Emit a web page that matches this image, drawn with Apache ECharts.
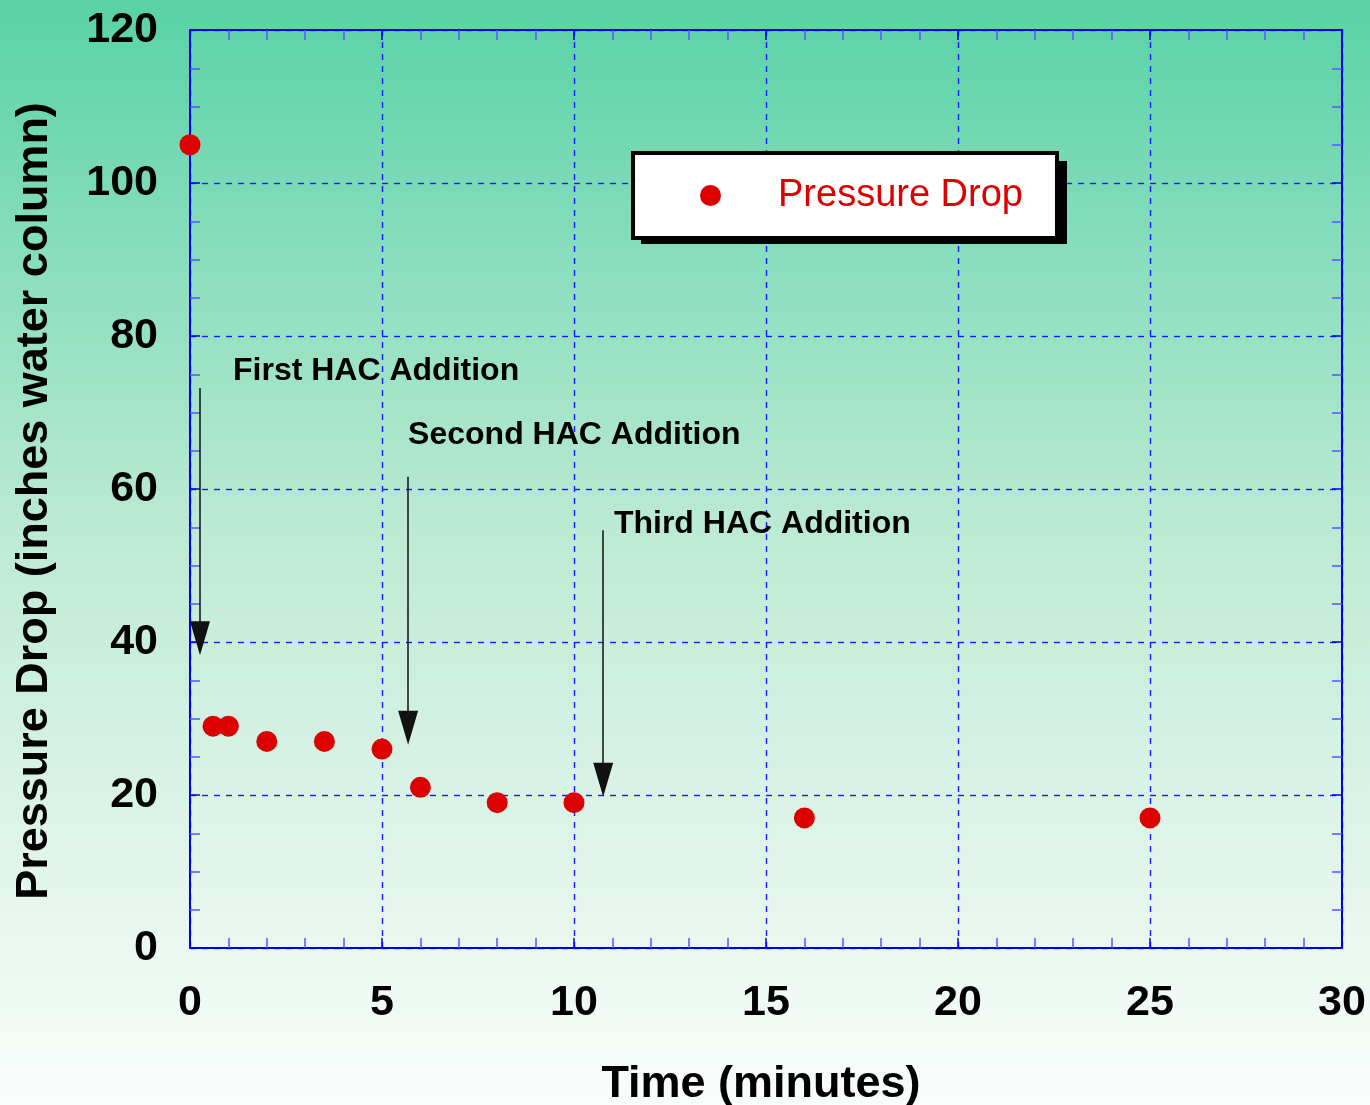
<!DOCTYPE html>
<html>
<head>
<meta charset="utf-8">
<script src="https://cdn.jsdelivr.net/npm/echarts@6/dist/echarts.min.js"></script>
<style>
  html, body { margin: 0; padding: 0; }
  #chart { width: 1370px; height: 1105px; }
</style>
</head>
<body>
<div id="chart"></div>
<script>
// measured points
const timeMin = [0, 0.6, 1, 2, 3.5, 5, 6, 8, 10, 16, 25]
const pressureDrop = [105, 29, 29, 27, 27, 26, 21, 19, 19, 17, 17]

// HAC addition arrows + notes
const arrowX = [0.26, 5.68, 10.76]
const arrowFrom = [73.2, 61.6, 54.6]
const arrowTo = [40.5, 28.8, 22.0]
const noteText = ['First HAC Addition', 'Second HAC Addition', 'Third HAC Addition']
const noteX = [1.12, 5.68, 11.04]
const noteY = [75.4, 67.1, 55.4]

const chart = echarts.init(document.getElementById('chart'))

const blue = '#0000ee'
const font = 'Liberation Sans, Arial, sans-serif'

const tickCommon = {
  axisLine: { show: true, onZero: false, lineStyle: { color: blue, width: 2 } },
  axisTick: { show: true, inside: true, length: 10, lineStyle: { color: blue, width: 1.5 } },
  minorTick: { show: true, length: 10, lineStyle: { color: '#5555ff', width: 1.5 } }
}
const gridLine = { show: true, lineStyle: { color: '#1a1aff', type: [6, 6], width: 1.4 } }

const option = {
  backgroundColor: new echarts.graphic.LinearGradient(0, 0, 0, 1, [
    { offset: 0, color: '#58d2a6' },
    { offset: 0.5, color: '#c0ebd6' },
    { offset: 1, color: '#fafdfb' }
  ]),
  animation: false,
  grid: { left: 190, right: 28, top: 30, bottom: 157, outerBoundsMode: 'none' },
  // drop shadow behind the legend box
  graphic: [
    {
      type: 'rect',
      left: 641,
      top: 161,
      shape: { width: 426, height: 83 },
      style: { fill: '#000' },
      z: 3,
      silent: true
    }
  ],
  legend: {
    data: ['Pressure Drop'],
    left: 633,
    top: 153,
    padding: [21, 34, 21, 67],
    itemWidth: 21,
    itemHeight: 21,
    backgroundColor: '#ffffff',
    borderColor: '#000',
    borderWidth: 4,
    borderRadius: 0,
    z: 5,
    textStyle: {
      color: '#dd0000',
      fontSize: 38,
      lineHeight: 40,
      fontFamily: font,
      padding: [3, 0, 0, 52]
    }
  },
  xAxis: [
    {
      type: 'value', min: 0, max: 30, interval: 5,
      name: 'Time (minutes)', nameLocation: 'middle', nameGap: 114,
      nameTextStyle: {
        fontSize: 45, fontWeight: 'bold', color: '#000', fontFamily: font,
        padding: [0, 10, 0, 0]
      },
      ...tickCommon,
      minorTick: { ...tickCommon.minorTick, splitNumber: 5 },
      axisLabel: { fontSize: 43, fontWeight: 'bold', color: '#000', margin: 34, fontFamily: font },
      splitLine: gridLine
    },
    {
      type: 'value', min: 0, max: 30, interval: 5, position: 'top',
      ...tickCommon,
      minorTick: { ...tickCommon.minorTick, splitNumber: 5 },
      axisLabel: { show: false },
      splitLine: { show: false }
    }
  ],
  yAxis: [
    {
      type: 'value', min: 0, max: 120, interval: 20,
      name: 'Pressure Drop (inches water column)', nameLocation: 'middle', nameGap: 133,
      nameTextStyle: {
        fontSize: 45, fontWeight: 'bold', color: '#000', fontFamily: font,
        padding: [0, 24, 0, 0]
      },
      ...tickCommon,
      minorTick: { ...tickCommon.minorTick, splitNumber: 4 },
      axisLabel: { fontSize: 43, fontWeight: 'bold', color: '#000', margin: 32, fontFamily: font },
      splitLine: gridLine
    },
    {
      type: 'value', min: 0, max: 120, interval: 20, position: 'right',
      ...tickCommon,
      minorTick: { ...tickCommon.minorTick, splitNumber: 4 },
      axisLabel: { show: false },
      splitLine: { show: false }
    }
  ],
  series: [
    {
      name: 'Pressure Drop',
      type: 'scatter',
      symbol: 'circle',
      symbolSize: 21,
      itemStyle: { color: '#dd0000', opacity: 1 },
      data: timeMin.map((t, i) => [t, pressureDrop[i]]),
      z: 5,
      markLine: {
        silent: true,
        symbol: ['none', 'triangle'],
        symbolSize: [20, 34],
        label: { show: false },
        lineStyle: { color: '#111', width: 1.5, type: 'solid', opacity: 1 },
        emphasis: { disabled: true },
        data: arrowX.map((x, i) => [
          { coord: [x, arrowFrom[i]] },
          { coord: [x, arrowTo[i]] }
        ])
      }
    },
    {
      name: 'notes',
      type: 'scatter',
      symbolSize: 0,
      silent: true,
      data: noteText.map((t, i) => ({ value: [noteX[i], noteY[i]], name: t })),
      label: {
        show: true,
        position: 'right',
        distance: 0,
        formatter: p => p.name,
        fontSize: 32,
        fontWeight: 'bold',
        color: '#000',
        opacity: 1,
        fontFamily: font
      }
    }
  ]
}

chart.setOption(option)
</script>
</body>
</html>
